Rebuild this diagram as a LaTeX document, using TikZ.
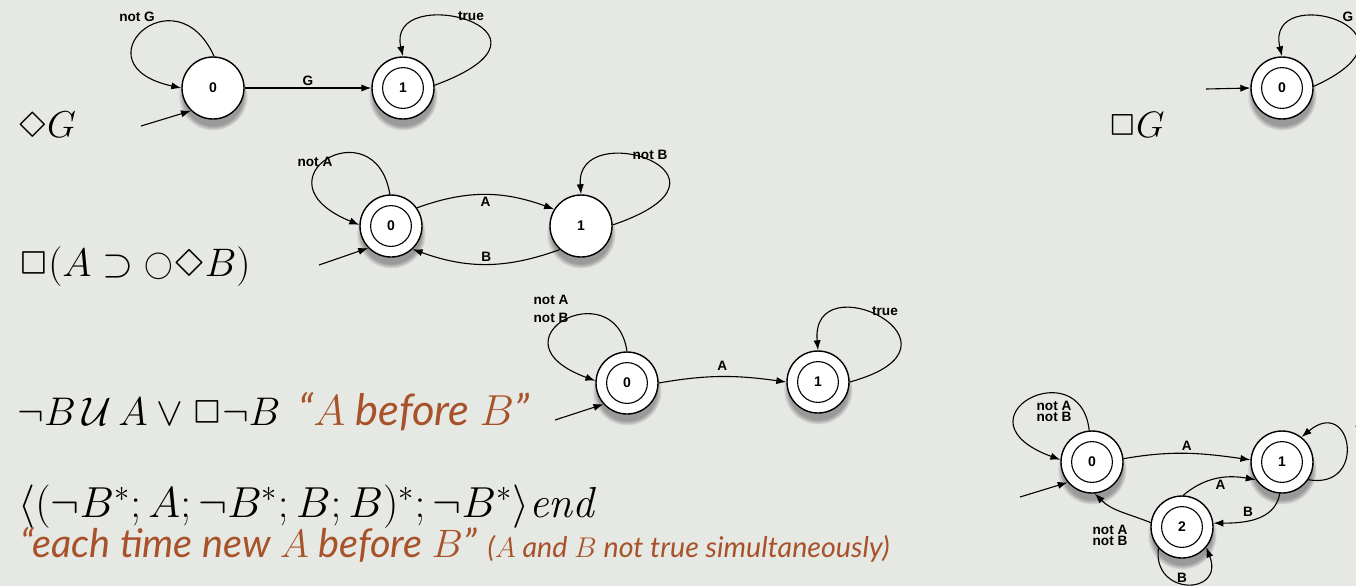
\RequirePackage{fix-cm}
\documentclass[tikz,border=0pt]{standalone}
\usepackage{fontspec}
\usepackage{latexsym}
\usepackage{graphicx}
\newfontfamily\lblfont{Liberation Sans}
\newfontfamily\quotefont{Lato}
\usetikzlibrary{arrows.meta,shadows}
\definecolor{slidebg}{RGB}{230,232,228}
\definecolor{quotecol}{RGB}{168,82,42}
\newcommand*{\pw}{1356}
\newcommand*{\ph}{586}
\newcommand*{\nextop}{\mathord{\vcenter{\hbox{\scalebox{0.72}{$\bigcirc$}}}}}

\begin{document}
\begin{tikzpicture}
[
	x=0.5pt, y=0.5pt,
	line width=0.55pt,
	>={Latex[length=5pt,width=3.6pt]},
	stnode/.style={circle,draw,fill=white,minimum size=31pt,inner sep=0pt,line width=0.7pt,
		font=\lblfont\bfseries\fontsize{7}{8}\selectfont,
		circular drop shadow={shadow xshift=0pt,shadow yshift=-3.5pt,shadow scale=1.12,opacity=0.75}},
	accnode/.style={stnode,path picture={\draw[line width=0.55pt] (path picture bounding box.center) circle[radius=10.2pt];}},
	lbl/.style={font=\lblfont\bfseries\fontsize{6.8}{9}\selectfont,inner sep=1pt},
	tightlbl/.style={lbl,align=center,font=\lblfont\bfseries\fontsize{6.8}{5.6}\selectfont},
	formula/.style={anchor=base west,inner sep=0pt,font=\fontsize{18.7}{22}\selectfont},
	quote/.style={anchor=base west,inner sep=0pt,text=quotecol,font=\quotefont\itshape\fontsize{20}{24}\selectfont}
]

	% frame
	\path[use as bounding box,fill=slidebg] (0,0) rectangle (\pw,-\ph);
	\clip (0,0) rectangle (\pw,-\ph);

	% formulas
	\node[formula] (fdg) at (17,-137) {$\Diamond G$};
	\node[formula,font=\fontsize{18.4}{22}\selectfont] (fbg) at (1108,-137) {$\Box G$};
	\node[formula,font=\fontsize{19.9}{24}\selectfont] (fresp) at (18,-276) {$\Box(A\supset\nextop\Diamond B)$};
	\node[formula,font=\fontsize{20}{24}\selectfont] (fprec) at (17,-425) {$\neg B\,\mathcal{U}\,A\vee\Box\neg B$};
	\node[quote,font=\quotefont\itshape\fontsize{21.7}{26}\selectfont] (qprec) at (298,-425) {“$A$ before $B$”};
	\node[formula,font=\fontsize{21.7}{26}\selectfont] (fseq) at (18,-517)
		{$\langle(\neg B^*;A;\neg B^*;B;B)^*;\neg B^*\rangle\mathit{end}$};
	\node[quote,font=\quotefont\itshape\fontsize{19.8}{24}\selectfont] (qseq) at (20,-557) {“each time new $A$ before $B$”};
	\node[quote,font=\quotefont\itshape\fontsize{14.3}{17}\selectfont] (qnote) at (487,-557)
		{($A$ and $B$ not true simultaneously)};

	% eventually G
	\node[stnode] (q0) at (213,-88) {0};
	\node[accnode] (q1) at (403,-88) {1};
	\coordinate (i1) at (141,-126);
	\draw[->] (i1) -- (q0.226);
	\draw[->] (q0) -- (q1) node[midway,above,lbl] {G};
	\draw[->] (q0.88) .. controls (175,30) and (75,-65) .. (q0.180);
	\draw[->] (q1.5) .. controls (585,-30) and (385,20) .. (q1.90);
	\node[lbl] (lq0) at (137,-17) {not G};
	\node[lbl] (lq1) at (471,-16) {true};

	% always G
	\node[accnode] (t0) at (1282,-88) {0};
	\coordinate (it) at (1206,-89);
	\draw[->] (it) -- (t0.180);
	\draw[->] (t0.3) .. controls (1439,-30) and (1264,20) .. (t0.90);
	\node[lbl] (lt0) at (1348,-17) {G};

	% response
	\node[accnode] (p0) at (391,-226) {0};
	\node[stnode] (p1) at (581,-226) {1};
	\coordinate (ip) at (319,-265);
	\draw[->] (ip) -- (p0.224);
	\draw[->] (p0.35) to[out=20,in=160] node[midway,below,lbl] {A} (p1.148);
	\draw[->] (p1.228) to[out=200,in=-20] node[midway,above,lbl] {B} (p0.313);
	\draw[->] (p0.92) .. controls (375,-105) and (250,-180) .. (p0.178);
	\draw[->] (p1.2) .. controls (760,-175) and (575,-115) .. (p1.90);
	\node[lbl] (lp0) at (315,-162) {not A};
	\node[lbl] (lp1) at (650,-155) {not B};

	% A before B
	\node[accnode] (r0) at (627,-383) {0};
	\node[accnode] (r1) at (818,-382) {1};
	\coordinate (ir) at (555,-420);
	\draw[->] (ir) -- (r0.222);
	\draw[->] (r0.0) to[out=10,in=172] node[midway,above=2pt,lbl] {A} (r1.180);
	\draw[->] (r0.90) .. controls (615,-270) and (485,-340) .. (r0.176);
	\draw[->] (r1.0) .. controls (985,-345) and (810,-260) .. (r1.90);
	\node[lbl,align=left] (lr0) at (551,-309) {not A\\not B};
	\node[lbl] (lr1) at (885,-311) {true};

	% each time new A before B
	\node[accnode] (s0) at (1092,-462) {0};
	\node[accnode] (s1) at (1282,-462) {1};
	\node[accnode] (s2) at (1182,-527) {2};
	\coordinate (is) at (1020,-497);
	\draw[->] (is) -- (s0.220);
	\draw[->] (s0.6) to[out=10,in=172] node[midway,above,lbl] {A} (s1.176);
	\draw[->] (s2.88) to[out=40,in=170] node[pos=0.55,below,lbl] {A} (s1.214);
	\draw[->] (s1.266) to[out=-100,in=0] node[pos=0.5,above left,lbl] {B} (s2.7);
	\draw[->] (s2.172) to[out=158,in=-45] (s0.275);
	\draw[->] (s0.95) .. controls (1080,-349) and (950,-419) .. (s0.176);
	\draw[->] (s1.326) .. controls (1368,-490) and (1352,-395) .. (s1.52);
	\draw[->] (s2.222) .. controls (1152,-596) and (1225,-596) .. (s2.320);
	\node[tightlbl] (ls0) at (1054,-411) {not A\\not B};
	\node[tightlbl] (ls20) at (1110,-535) {not A\\not B};
	\node[lbl] (ls1) at (1360,-423) {A};
	\node[lbl] (ls2) at (1182,-578) {B};

\end{tikzpicture}
\end{document}
